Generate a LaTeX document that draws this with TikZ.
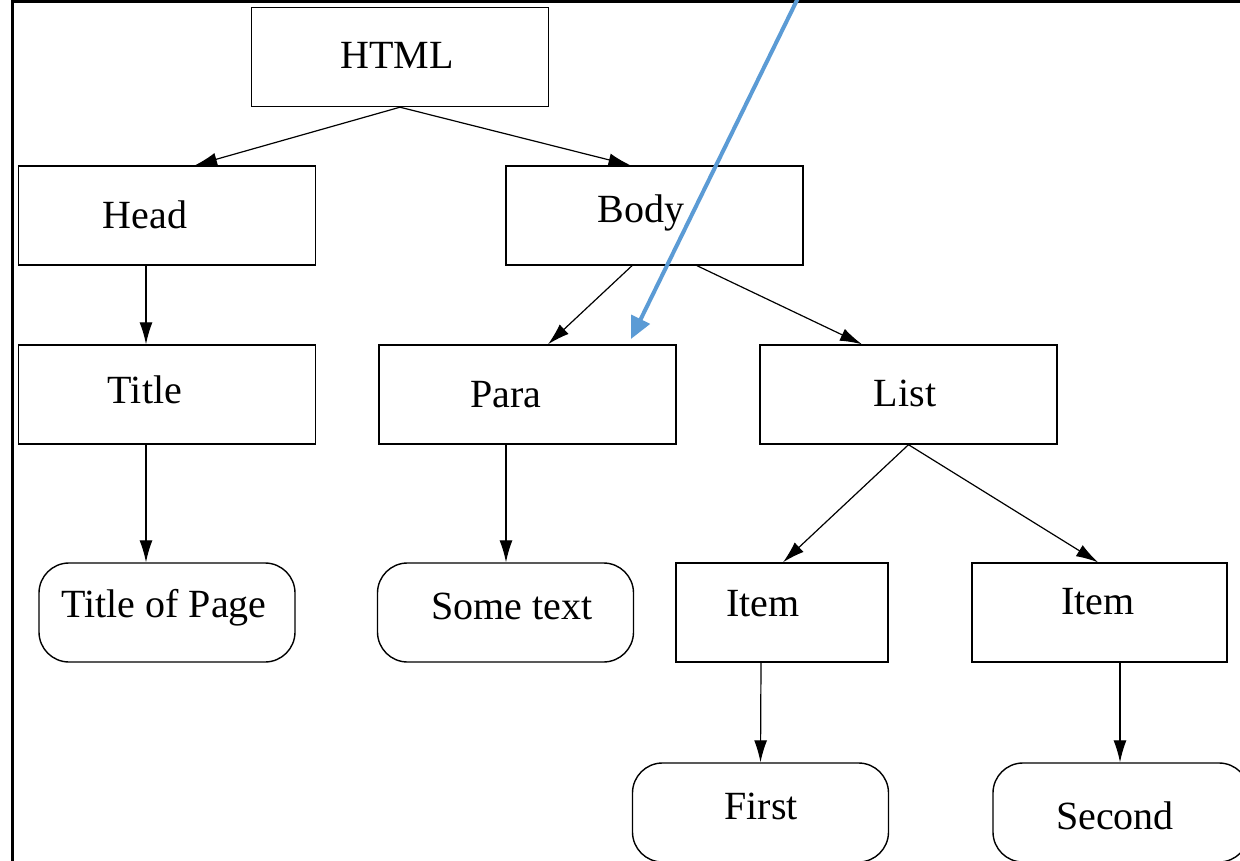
\documentclass[tikz,border=0pt]{standalone}
\usepackage{fontspec}
\setmainfont{Liberation Serif}
\usetikzlibrary{arrows.meta}
\tikzset{
  box/.style={draw=black, line width=1.4pt, minimum width=297pt, minimum height=99pt, inner sep=0pt},
  rbox/.style={box, rounded corners=30pt, minimum width=256pt},
  lbl/.style={font=\fontsize{40}{40}\selectfont, inner sep=0pt, anchor=center},
  conn/.style={draw=black, line width=1.2pt, -{Latex[length=22pt,width=13pt]}},
  blue arrow/.style={draw={rgb,255:red,91;green,155;blue,213}, line width=4pt, -{Triangle[length=22pt,width=20pt]}}
}
\begin{document}
\begin{tikzpicture}[x=1pt,y=-1pt]
\useasboundingbox (0,0) rectangle (1240,861);
\fill[white] (0,0) rectangle (1240,861);
% frame
\draw[line width=3pt] (12,900) -- (12,2) -- (1260,2);

% boxes
\node[box] (html) at (400,57) {};
\node[box] (head) at (167,215.5) {};
\node[box] (body) at (654.5,215.5) {};
\node[box] (title) at (167,394.5) {};
\node[box] (para) at (527.5,394.5) {};
\node[box] (list) at (908.5,394.5) {};
\node[rbox] (top) at (167,612.5) {};
\node[rbox] (some) at (505.5,612.5) {};
\node[box, minimum width=212pt] (item1) at (782,612.5) {};
\node[box, minimum width=255pt] (item2) at (1099.5,612.5) {};
\node[rbox] (first) at (760.5,812.5) {};
\node[rbox] (second) at (1121,812.5) {};

% labels
\node[lbl] (thtml) at (397,55) {HTML};
\node[lbl] (thead) at (145,215) {Head};
\node[lbl] (tbody) at (641,213) {Body};
\node[lbl] (ttitle) at (145,390) {Title};
\node[lbl] (tpara) at (506,395) {Para};
\node[lbl] (tlist) at (905,393) {List};
\node[lbl] (ttop) at (164,608) {Title of Page};
\node[lbl] (tsome) at (512,606) {Some text};
\node[lbl] (titem1) at (763,604) {Item};
\node[lbl] (titem2) at (1098,602) {Item};
\node[lbl] (tfirst) at (761,806) {First};
\node[lbl] (tsecond) at (1115,816) {Second};

% connectors
\draw[conn] (html.south) -- ([xshift=28pt]head.north);
\draw[conn] (html.south) -- ([xshift=-24pt]body.north);
\draw[conn] ([xshift=-21pt]head.south) -- ([xshift=-21pt]title.north);
\draw[conn] ([xshift=-21pt]title.south) -- ([xshift=-21pt]top.north);
\draw[conn] ([xshift=-22.5pt]body.south) -- ([xshift=20.5pt]para.north);
\draw[conn] ([xshift=42.5pt]body.south) -- ([xshift=-46.5pt]list.north);
\draw[conn] ([xshift=-21.5pt]para.south) -- ([xshift=0.5pt]some.north);
\draw[conn] (list.south) -- ([xshift=1pt]item1.north);
\draw[conn] (list.south) -- ([xshift=-1.5pt]item2.north);
\draw[conn] ([xshift=-21pt]item1.south) -- (first.north);
\draw[conn] ([xshift=20.5pt]item2.south) -- ([xshift=-1pt]second.north);

% annotation arrow
\coordinate (bstart) at (799,-4);
\coordinate (bend) at (631,339);
\draw[blue arrow] (bstart) -- (bend);
\end{tikzpicture}
\end{document}
